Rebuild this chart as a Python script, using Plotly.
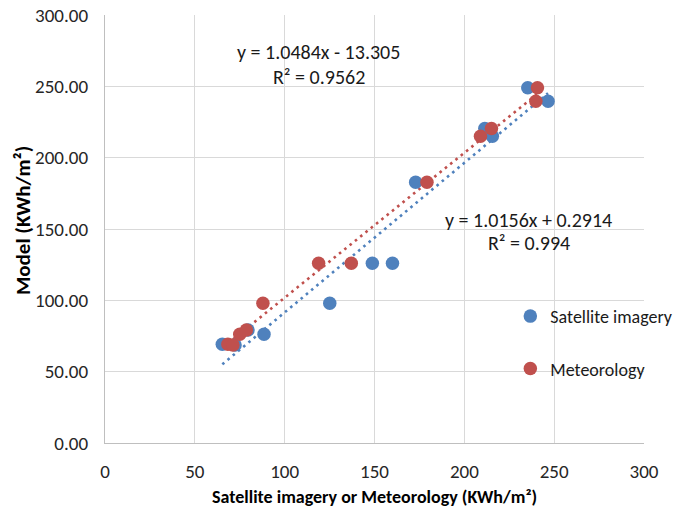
import numpy as np
import plotly.graph_objects as go

# ---- data ----
model_y = [249.0, 239.5, 220.5, 215.0, 182.7, 126.0, 126.0, 98.0, 76.2, 79.2, 69.2, 68.7]
sat_x = [235.3, 246.6, 211.4, 215.6, 172.9, 148.8, 160.0, 125.1, 88.5, 79.6, 65.3, 72.4]
met_x = [240.7, 239.8, 215.1, 209.0, 179.2, 118.9, 137.1, 87.9, 75.0, 78.7, 68.4, 71.2]

series_names = ["Satellite imagery", "Meteorology"]
series_colors = ["#4F81BD", "#C0504D"]

# trendline coefficients as printed on the chart
sat_slope, sat_intercept, sat_r2 = 1.0484, -13.305, 0.9562
met_slope, met_intercept, met_r2 = 1.0156, 0.2914, 0.994

x_ticks = [0, 50, 100, 150, 200, 250, 300]
y_ticks = [0, 50, 100, 150, 200, 250, 300]

x_title = "Satellite imagery or Meteorology (KWh/m²)"
y_title = "Model (KWh/m²)"

FONT = "Carlito, Lato, sans-serif"

fig = go.Figure()

# trendlines (x range = data range of each series)
for xs, slope, icpt, col in [(sat_x, sat_slope, sat_intercept, series_colors[0]),
                             (met_x, met_slope, met_intercept, series_colors[1])]:
    tx = np.array([min(xs), max(xs)])
    fig.add_trace(go.Scatter(x=tx, y=slope * tx + icpt, mode="lines",
                             line=dict(color=col, width=2.6, dash="2.6px,4.2px"),
                             showlegend=False, hoverinfo="skip"))

for xs, name, col in zip([sat_x, met_x], series_names, series_colors):
    fig.add_trace(go.Scatter(x=xs, y=model_y, mode="markers", name=name,
                             legendgroup=name,
                             marker=dict(color=col, size=13.5, line=dict(width=0))))

def fmt_eq(slope, icpt):
    sign = "+" if icpt >= 0 else "-"
    return f"y = {slope:.4f}x {sign} {abs(icpt):g}"

annots = [
    (118.9, 274.2, fmt_eq(sat_slope, sat_intercept)),
    (118.9, 256.7, f"R² = {sat_r2:g}"),
    (235.9, 156.3, fmt_eq(met_slope, met_intercept)),
    (235.9, 140.0, f"R² = {met_r2:g}"),
]
for ax_, ay_, txt in annots:
    fig.add_annotation(x=ax_, y=ay_, text=txt, showarrow=False, xanchor="center",
                       yanchor="middle", font=dict(family=FONT, size=20, color="#1a1a1a"))

# axis titles placed as paper annotations
fig.add_annotation(xref="paper", yref="paper", x=0.5, y=-0.126, text=f"<b>{x_title}</b>",
                   showarrow=False, xanchor="center", yanchor="middle",
                   font=dict(family=FONT, size=18, color="#000"))
fig.add_annotation(xref="paper", yref="paper", x=-0.151, y=0.52, text=f"<b>{y_title}</b>",
                   showarrow=False, xanchor="center", yanchor="middle", textangle=-90,
                   font=dict(family=FONT, size=21, color="#000"))

fig.update_layout(
    width=693, height=510,
    margin=dict(l=105, r=49, t=15, b=67),
    paper_bgcolor="white", plot_bgcolor="white",
    font=dict(family=FONT, color="#262626"),
    legend=dict(x=0.752, y=0.339, xanchor="left", yanchor="top",
                bgcolor="rgba(0,0,0,0)", traceorder="grouped", tracegroupgap=26,
                font=dict(family=FONT, size=18, color="#1a1a1a"), itemwidth=30),
)

fig.update_xaxes(range=[0, 300], tickvals=x_ticks, ticktext=[str(v) for v in x_ticks],
                 showgrid=True, gridcolor="#d9d9d9", gridwidth=1.3,
                 showline=True, linecolor="#bfbfbf", linewidth=1.3, automargin=False,
                 zeroline=False, ticks="outside", ticklen=11, tickcolor="rgba(0,0,0,0)",
                 tickfont=dict(family=FONT, size=19, color="#262626"))
fig.update_yaxes(range=[0, 300], tickvals=y_ticks, ticktext=[f"{v:.2f}" for v in y_ticks],
                 showgrid=True, gridcolor="#d9d9d9", gridwidth=1.3,
                 showline=True, linecolor="#bfbfbf", linewidth=1.3, automargin=False,
                 zeroline=False, ticks="outside", ticklen=12, tickcolor="rgba(0,0,0,0)",
                 tickfont=dict(family=FONT, size=19, color="#262626"))

fig.write_html("out.html", config={"displayModeBar": False},
               post_script="document.body.style.margin='0px';")
